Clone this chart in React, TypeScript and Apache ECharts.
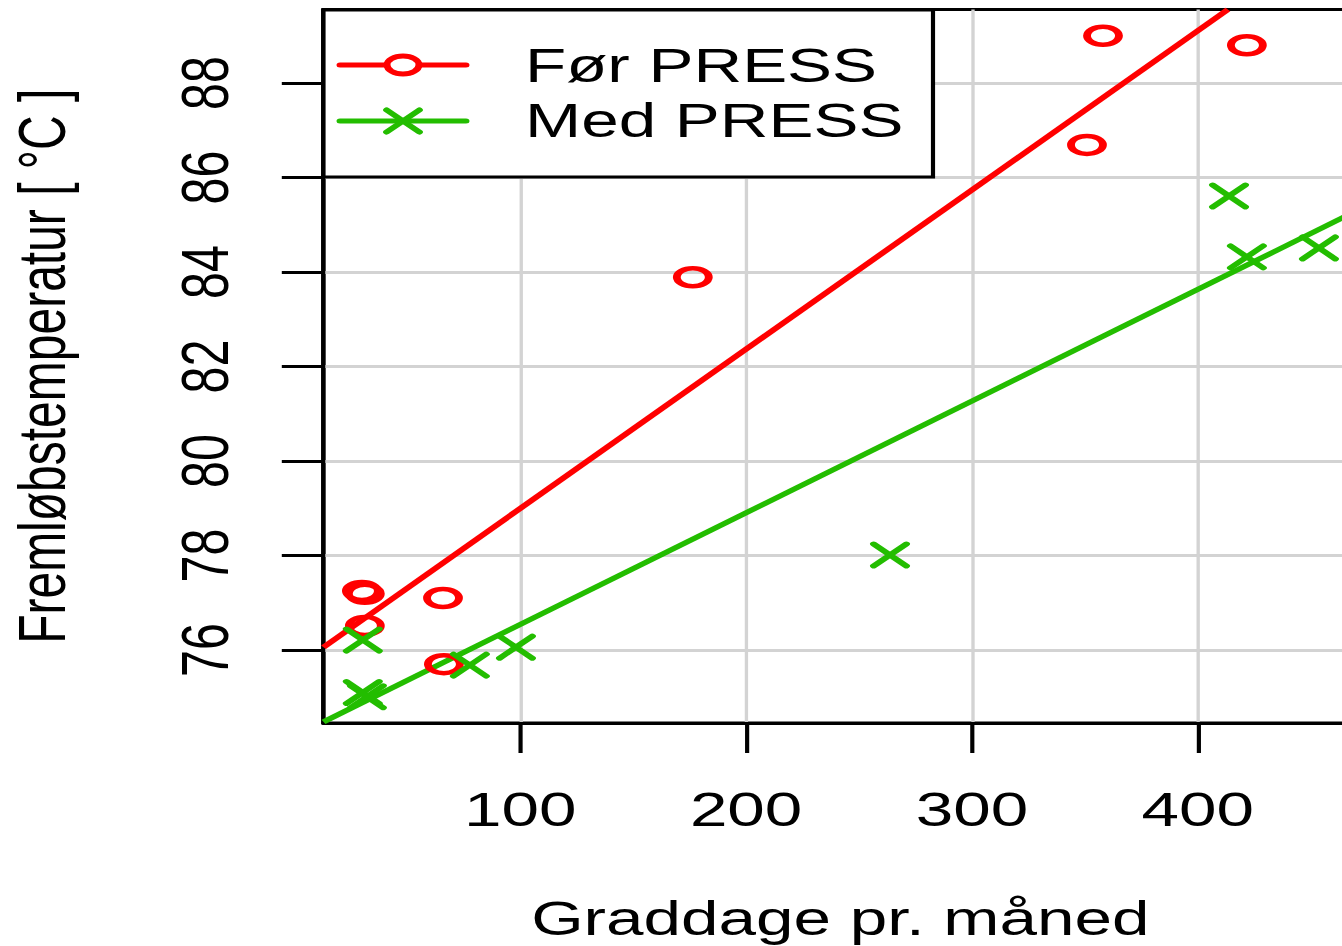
import React, { useEffect, useRef } from 'react';
import * as echarts from 'echarts';

// ---- data ----
const xTicks = [100, 200, 300, 400];
const yTicks = [76, 78, 80, 82, 84, 86, 88];
const seriesNames = ['Før PRESS', 'Med PRESS'];
const xTitle = 'Graddage pr. måned';
const yTitle = 'Fremløbstemperatur [ °C ]';

const forX = [29.9, 31.2, 31.2, 65.8, 66.2, 176.4, 350.9, 358.0, 421.7];
const forY = [77.25, 77.19, 76.51, 77.1, 75.7, 83.89, 86.69, 89.0, 88.8];
const medX = [30.3, 30.3, 32.1, 77.7, 98.1, 263.7, 413.8, 421.7, 453.6];
const medY = [76.21, 75.1, 75.01, 75.68, 76.06, 78.01, 85.61, 84.32, 84.51];

// fitted lines (two points each)
const forFitX = [12.9, 413.3];
const forFitY = [76.06, 89.556];
const medFitX = [12.9, 470.5];
const medFitY = [74.48, 85.3];

const xRange = [12.9, 470.5];
const yRange = [74.455, 89.556];

const RED = '#FF0000';
const GREEN = '#23BD00';
const GRIDC = '#D3D3D3';
const FONT = '"Liberation Sans", Arial, Helvetica, sans-serif';
const FS = 48.5;
const S = 1.39; // horizontal stretch of the reference
const LW = 1000; // logical width of the chart

const ELLIPSE = 'path://M0,5C0,2.24 2.24,0 5,0C7.76,0 10,2.24 10,5C10,7.76 7.76,10 5,10C2.24,10 0,7.76 0,5Z';
const CROSS = 'path://M0,0L10,10M10,0L0,10';

const zip = (a: number[], b: number[]) => a.map((v, i) => [v, b[i]]);

export default function App() {
  const ref = useRef<HTMLDivElement>(null);

  useEffect(() => {
    if (!ref.current) return;
    const chart = echarts.init(ref.current, null, { renderer: 'svg' });

    const gridLeft = 323.5 / S;
    const gridRightEdge = 1357.1 / S;
    const textStyle = { fontFamily: FONT, fontSize: FS, color: '#000' };

    const lx1 = 340 / S;
    const lx2 = 466 / S;
    const lmx = 403 / S;
    const ly1 = 65;
    const ly2 = 121;

    chart.setOption({
      animation: false,
      backgroundColor: '#fff',
      grid: {
        left: gridLeft,
        right: LW - gridRightEdge,
        top: 9.5,
        bottom: 946 - 723,
        show: true,
        borderColor: '#000',
        borderWidth: 3,
        backgroundColor: 'transparent',
        containLabel: false,
        outerBoundsMode: 'none',
      },
      xAxis: {
        type: 'value',
        min: xRange[0],
        max: xRange[1],
        axisLine: { show: true, onZero: false, lineStyle: { color: '#000', width: 3 } },
        axisTick: { show: true, length: 30, customValues: xTicks, lineStyle: { color: '#000', width: 3 } },
        axisLabel: { customValues: xTicks, margin: 62, ...textStyle },
        splitLine: { show: true, lineStyle: { color: GRIDC, width: 2.4 } },
        name: xTitle,
        nameLocation: 'middle',
        nameGap: 170.5,
        nameTextStyle: { ...textStyle },
      },
      yAxis: {
        type: 'value',
        min: yRange[0],
        max: yRange[1],
        axisLine: { show: true, onZero: false, lineStyle: { color: '#000', width: 3 } },
        axisTick: { show: true, length: 30, customValues: yTicks, lineStyle: { color: '#000', width: 3 } },
        axisLabel: { customValues: yTicks, margin: 61, rotate: 90, ...textStyle },
        splitLine: { show: true, lineStyle: { color: GRIDC, width: 2.8 } },
        name: yTitle,
        nameLocation: 'middle',
        nameRotate: 90,
        nameGap: 178.6,
        nameTextStyle: { ...textStyle, fontSize: 48 },
      },
      series: [
        {
          name: seriesNames[0] + ' fit',
          type: 'line',
          data: zip(forFitX, forFitY),
          symbol: 'none',
          showSymbol: false,
          clip: true,
          silent: true,
          lineStyle: { color: RED, width: 5, opacity: 1 },
          z: 3,
        },
        {
          name: seriesNames[1] + ' fit',
          type: 'line',
          data: zip(medFitX, medFitY),
          symbol: 'none',
          showSymbol: false,
          clip: true,
          silent: true,
          lineStyle: { color: GREEN, width: 5, opacity: 1 },
          z: 3,
        },
        {
          name: seriesNames[0],
          type: 'scatter',
          data: zip(forX, forY),
          symbol: ELLIPSE,
          symbolSize: [23, 18],
          silent: true,
          itemStyle: { color: 'transparent', borderColor: RED, borderWidth: 5, opacity: 1 },
          z: 4,
        },
        {
          name: seriesNames[1],
          type: 'scatter',
          data: zip(medX, medY),
          symbol: CROSS,
          symbolSize: [23.5, 22],
          silent: true,
          itemStyle: { color: 'transparent', borderColor: GREEN, borderWidth: 5, borderCap: 'round', opacity: 1 },
          z: 4,
        },
      ],
      graphic: {
        elements: [
          {
            type: 'rect',
            z: 100,
            silent: true,
            shape: { x: gridLeft, y: 10, width: 933 / S - gridLeft, height: 167 },
            style: { fill: '#fff', stroke: '#000', lineWidth: 3 },
          },
          {
            type: 'line',
            z: 101,
            silent: true,
            shape: { x1: lx1, y1: ly1, x2: lx2, y2: ly1 },
            style: { stroke: RED, lineWidth: 5, lineCap: 'round' },
          },
          {
            type: 'ellipse',
            z: 102,
            silent: true,
            shape: { cx: lmx, cy: ly1, rx: 11.5, ry: 9 },
            style: { fill: '#fff', stroke: RED, lineWidth: 5 },
          },
          {
            type: 'line',
            z: 101,
            silent: true,
            shape: { x1: lx1, y1: ly2, x2: lx2, y2: ly2 },
            style: { stroke: GREEN, lineWidth: 5, lineCap: 'round' },
          },
          {
            type: 'line',
            z: 102,
            silent: true,
            shape: { x1: lmx - 11.75, y1: ly2 - 11, x2: lmx + 11.75, y2: ly2 + 11 },
            style: { stroke: GREEN, lineWidth: 5, lineCap: 'round' },
          },
          {
            type: 'line',
            z: 102,
            silent: true,
            shape: { x1: lmx + 11.75, y1: ly2 - 11, x2: lmx - 11.75, y2: ly2 + 11 },
            style: { stroke: GREEN, lineWidth: 5, lineCap: 'round' },
          },
          {
            type: 'text',
            z: 103,
            silent: true,
            style: {
              text: seriesNames[0],
              x: 525 / S,
              y: 65,
              font: `${FS}px ${FONT}`,
              fill: '#000',
              align: 'left',
              textAlign: 'left',
              verticalAlign: 'middle',
              textVerticalAlign: 'middle',
            },
          },
          {
            type: 'text',
            z: 103,
            silent: true,
            style: {
              text: seriesNames[1],
              x: 525 / S,
              y: 120,
              font: `${FS}px ${FONT}`,
              fill: '#000',
              align: 'left',
              textAlign: 'left',
              verticalAlign: 'middle',
              textVerticalAlign: 'middle',
            },
          },
        ],
      },
    });

    return () => {
      chart.dispose();
    };
  }, []);

  return (
    <div
      style={{
        position: 'fixed',
        left: 0,
        top: 0,
        width: 1342,
        height: 946,
        overflow: 'hidden',
        background: '#fff',
      }}
    >
      <div
        ref={ref}
        style={{
          width: LW,
          height: 946,
          transform: `scaleX(${S})`,
          transformOrigin: '0 0',
        }}
      />
    </div>
  );
}
